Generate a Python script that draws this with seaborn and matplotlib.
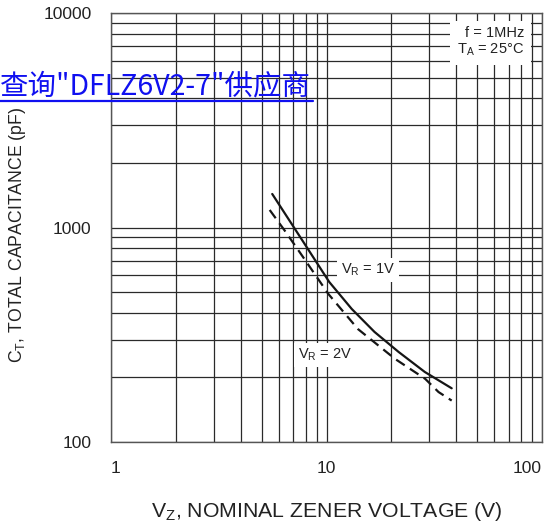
import matplotlib
matplotlib.use("Agg")
import matplotlib.pyplot as plt
import seaborn as sns
import pandas as pd
import numpy as np

# ---- data ----
vz_1v = [5.6, 7.65, 10.3, 13.1, 16.7, 21.6, 28.6, 38.1]
ct_1v = [1433, 884, 557, 417, 326, 263, 212, 178]
vz_2v = [5.45, 6.4, 7.8, 10.2, 14.0, 20.8, 28.7, 33.1, 38.1]
ct_2v = [1207, 967, 726, 490, 336, 244, 197, 171, 156]
series_names = ["VR = 1V", "VR = 2V"]
x_ticks = [1, 10, 100]
x_tick_labels = ["1", "10", "100"]
y_ticks = [100, 1000, 10000]
y_tick_labels = ["100", "1000", "10000"]

df = pd.DataFrame({
    "vz": vz_1v + vz_2v,
    "ct": ct_1v + ct_2v,
    "series": [series_names[0]] * len(vz_1v) + [series_names[1]] * len(vz_2v),
})

sns.set_theme(style="white")
plt.rcParams["font.family"] = ["Liberation Sans", "DejaVu Sans"]
plt.rcParams["mathtext.fontset"] = "custom"
plt.rcParams["mathtext.rm"] = "Liberation Sans"
plt.rcParams["mathtext.it"] = "Liberation Sans"
plt.rcParams["mathtext.bf"] = "Liberation Sans"

W, H = 545, 523
fig = plt.figure(figsize=(W / 100, H / 100), dpi=100)
ax = fig.add_axes([111 / W, (H - 442) / H, (542 - 111) / W, (442 - 13) / H])

ax.set_xscale("log")
ax.set_yscale("log")
ax.set_xlim(1, 100)
ax.set_ylim(100, 10000)

gridc = "#2a2a2a"
ax.grid(True, which="both", color=gridc, linewidth=0.9)
ax.set_axisbelow(True)
for s in ax.spines.values():
    s.set_color("#555555")
    s.set_linewidth(1.0)

sns.lineplot(data=df, x="vz", y="ct", style="series", ax=ax,
             color="#151515", linewidth=1.6, legend=False, sort=False,
             dashes={series_names[0]: "", series_names[1]: (4.6, 2.8)},
             estimator=None)

ax.set_xticks(x_ticks)
ax.set_xticklabels(x_tick_labels)
ax.set_yticks(y_ticks)
ax.set_yticklabels(y_tick_labels)
ax.tick_params(axis="both", which="both", length=0, labelsize=12.5,
               colors="#222222")
ax.tick_params(axis="x", pad=14)
ax.tick_params(axis="y", pad=14)
ax.xaxis.set_minor_formatter(matplotlib.ticker.NullFormatter())
ax.yaxis.set_minor_formatter(matplotlib.ticker.NullFormatter())
xl = ax.get_xticklabels()
xl[0].set_horizontalalignment("left")
xl[-1].set_horizontalalignment("right")

ax.set_xlabel(r"V$_\mathregular{Z}$, NOMINAL ZENER VOLTAGE (V)", fontsize=15.3,
              color="#222222", labelpad=17)
ax.set_ylabel(r"C$_\mathregular{T}$, TOTAL CAPACITANCE (pF)", fontsize=12.7,
              color="#222222")
ax.yaxis.set_label_coords(-(111 - 28) / 431, (442 - 235) / 429)

bbox = dict(boxstyle="square,pad=0.25", facecolor="white", edgecolor="none")
ax.text(15.6, 634, r"V$_\mathregular{R}$ = 1V", fontsize=10.5, ha="center",
        va="center", color="#222222", bbox=bbox)
ax.text(9.84, 254, r"V$_\mathregular{R}$ = 2V", fontsize=10.5, ha="center",
        va="center", color="#222222", bbox=bbox)

ax.text((524 - 111) / 431, (442 - 42) / 429,
        "f = 1MHz\n" + r"T$_\mathregular{A}$ = 25°C", transform=ax.transAxes,
        fontsize=10.5, ha="right", va="center", multialignment="right",
        color="#222222", linespacing=1.15,
        bbox=dict(boxstyle="square,pad=0.45", facecolor="white", edgecolor="none"))

# overlay link text
t = fig.text(0 / W, 1 - 94 / H, '查询"DFLZ6V2-7"供应商', fontsize=20.5,
             color="#1010f0", ha="left", va="baseline",
             family=["Noto Sans CJK SC", "DejaVu Sans"])
fig.add_artist(matplotlib.lines.Line2D([0, 313 / W], [1 - 101 / H, 1 - 101 / H],
                                       color="#1010f0", linewidth=1.6,
                                       transform=fig.transFigure))

fig.savefig("out.png", dpi=100)
